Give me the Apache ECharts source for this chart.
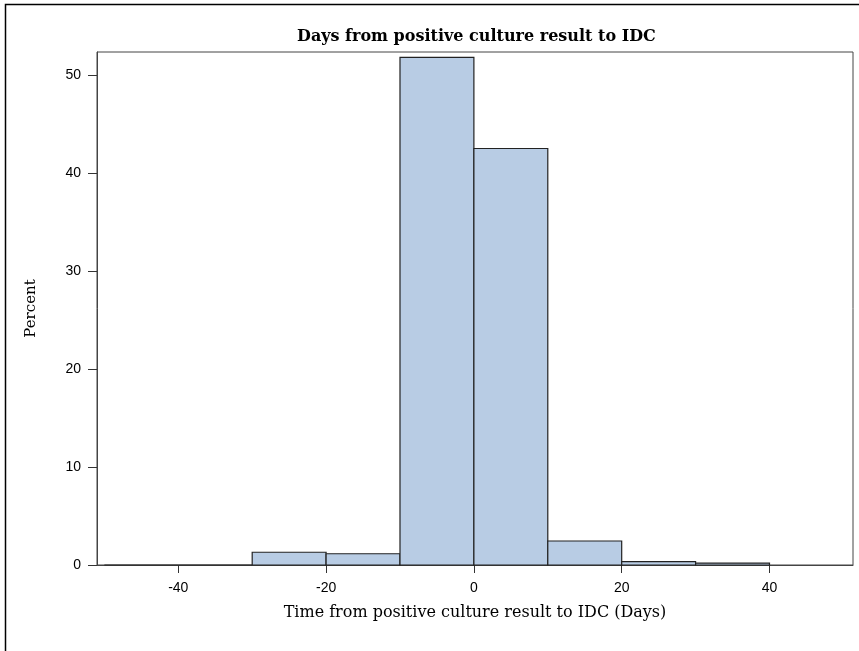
<!DOCTYPE html>
<html>
<head>
<meta charset="utf-8">
<script src="https://cdn.jsdelivr.net/npm/echarts@6/dist/echarts.min.js"></script>
<style>
  html, body { margin: 0; padding: 0; background: #fff; }
  #chart { width: 859px; height: 651px; }
</style>
</head>
<body>
<div id="chart"></div>
<script>
// histogram bins (days) and percent per bin
var binStart = [-50, -40, -30, -20, -10, 0, 10, 20, 30];
var binEnd   = [-40, -30, -20, -10, 0, 10, 20, 30, 40];
var percent  = [0, 0, 1.3, 1.15, 51.8, 42.5, 2.45, 0.35, 0.2];
var xTicks   = [-40, -20, 0, 20, 40];

var chart = echarts.init(document.getElementById('chart'));

var bars = binStart.map(function (s, i) { return [s, binEnd[i], percent[i]]; });

var serif = "'DejaVu Serif', 'Liberation Serif', serif";
var sans = "'Liberation Sans', sans-serif";

chart.setOption({
    backgroundColor: '#fff',
    animation: false,
    title: {
        text: 'Days from positive culture result to IDC',
        left: 292,
        top: 24,
        textStyle: { fontFamily: serif, fontSize: 16, fontWeight: 'bold', color: '#000' }
    },
    grid: {
        left: 97, right: 6, top: 52, bottom: 86,
        show: true, borderColor: '#444', borderWidth: 1
    },
    xAxis: {
        type: 'value',
        min: -51, max: 51.3,
        name: 'Time from positive culture result to IDC (Days)',
        nameLocation: 'middle',
        nameGap: 40,
        nameTextStyle: { fontFamily: serif, fontSize: 16, color: '#000' },
        axisLine: { show: true, onZero: false, lineStyle: { color: '#444' } },
        axisTick: { show: true, length: 8, customValues: xTicks, lineStyle: { color: '#333' } },
        axisLabel: { customValues: xTicks, margin: 16, fontFamily: sans, fontSize: 14, color: '#000' },
        splitLine: { show: false }
    },
    yAxis: {
        type: 'value',
        min: 0, max: 52.35, interval: 10,
        name: 'Percent',
        nameLocation: 'middle',
        nameGap: 58,
        nameRotate: 90,
        nameTextStyle: { fontFamily: serif, fontSize: 15, color: '#000' },
        axisLine: { show: true, onZero: false, lineStyle: { color: '#444' } },
        axisTick: { show: true, length: 9, lineStyle: { color: '#333' } },
        axisLabel: { margin: 16, showMaxLabel: false, fontFamily: sans, fontSize: 14, color: '#000' },
        splitLine: { show: false }
    },
    graphic: [{
        type: 'rect',
        shape: { x: 5.5, y: 4.5, width: 900, height: 700 },
        style: { fill: 'none', stroke: '#000', lineWidth: 1.5 },
        silent: true
    }],
    series: [{
        type: 'custom',
        data: bars,
        encode: { x: [0, 1], y: 2 },
        renderItem: function (params, api) {
            var p0 = api.coord([api.value(0), api.value(2)]);
            var p1 = api.coord([api.value(1), 0]);
            return {
                type: 'rect',
                shape: { x: p0[0], y: p0[1], width: p1[0] - p0[0], height: p1[1] - p0[1] },
                style: { fill: '#B8CCE4', stroke: '#222', lineWidth: 1.2 }
            };
        }
    }]
});
</script>
</body>
</html>
